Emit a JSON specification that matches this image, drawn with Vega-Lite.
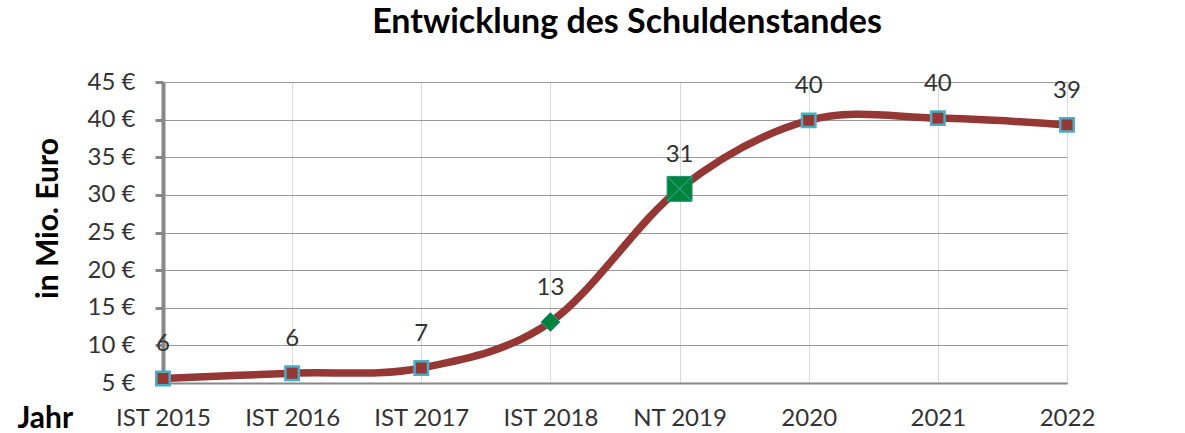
{
  "$schema": "https://vega.github.io/schema/vega-lite/v6.json",
  "autosize": "none",
  "width": 1022,
  "height": 301,
  "padding": {"left": 163, "top": 82, "right": 0, "bottom": 50},
  "background": "white",
  "title": {
    "text": "Entwicklung des Schuldenstandes",
    "font": "Lato",
    "fontSize": 34,
    "fontWeight": "bold",
    "color": "#000000",
    "anchor": "middle",
    "dx": -47,
    "offset": 30
  },
  "config": {
    "view": {"stroke": null},
    "font": "Lato"
  },
  "data": {
    "values": [
      {"Jahr": "IST 2015", "Wert": 5.6},
      {"Jahr": "IST 2016", "Wert": 6.3},
      {"Jahr": "IST 2017", "Wert": 7.0},
      {"Jahr": "IST 2018", "Wert": 13.1},
      {"Jahr": "NT 2019", "Wert": 30.8},
      {"Jahr": "2020", "Wert": 39.9},
      {"Jahr": "2021", "Wert": 40.2},
      {"Jahr": "2022", "Wert": 39.3}
    ]
  },
  "encoding": {
    "x": {
      "field": "Jahr",
      "type": "ordinal",
      "sort": null,
      "scale": {"type": "point", "range": [0, 904], "padding": 0},
      "axis": {
        "title": "Jahr",
        "titleFont": "Lato",
        "titleFontSize": 30,
        "titleFontWeight": "bold",
        "titleColor": "#000000",
        "titleAlign": "left",
        "titleBaseline": "alphabetic",
        "titleAnchor": null,
        "titleX": -146,
        "titleY": 44,
        "labelAngle": 0,
        "labelFont": "Lato",
        "labelFontSize": 24,
        "labelColor": "#333333",
        "labelPadding": 23,
        "tickSize": 0,
        "grid": true,
        "gridColor": "#d9d9d9",
        "gridWidth": 1,
        "domainColor": "#888888",
        "domainWidth": 2
      }
    },
    "y": {
      "field": "Wert",
      "type": "quantitative",
      "scale": {"domain": [5, 45], "nice": false, "zero": false},
      "axis": {
        "title": "in Mio. Euro",
        "titleFont": "Lato",
        "titleFontSize": 30,
        "titleFontWeight": "bold",
        "titleColor": "#000000",
        "titleAngle": -90,
        "titleAlign": "center",
        "titleBaseline": "middle",
        "titleAnchor": null,
        "titleX": -115,
        "titleY": 136,
        "values": [5, 10, 15, 20, 25, 30, 35, 40, 45],
        "labelExpr": "datum.value + ' €'",
        "labelFont": "Lato",
        "labelFontSize": 24,
        "labelColor": "#333333",
        "labelPadding": 20,
        "tickSize": 8,
        "tickWidth": 3,
        "tickColor": "#888888",
        "domainColor": "#888888",
        "domainWidth": 4,
        "grid": true,
        "gridColor": "#999999",
        "gridWidth": 1
      }
    }
  },
  "layer": [
    {
      "mark": {"type": "line", "interpolate": "cardinal", "color": "#953735", "strokeWidth": 7.5}
    },
    {
      "transform": [{"filter": "datum.Jahr != 'IST 2018' && datum.Jahr != 'NT 2019'"}],
      "mark": {"type": "point", "shape": "square", "filled": true, "size": 180, "fill": "#953735", "stroke": "#4BACC6", "strokeWidth": 2.5, "opacity": 1}
    },
    {
      "transform": [{"filter": "datum.Jahr == 'IST 2018'"}],
      "mark": {"type": "point", "shape": "diamond", "filled": true, "size": 360, "fill": "#00843D", "stroke": "#2a9d8f", "strokeWidth": 1, "opacity": 1}
    },
    {
      "transform": [{"filter": "datum.Jahr == 'NT 2019'"}],
      "mark": {"type": "point", "shape": "square", "filled": true, "size": 620, "fill": "#00843D", "stroke": "#1f8f6a", "strokeWidth": 1, "opacity": 1}
    },
    {
      "transform": [{"filter": "datum.Jahr == 'NT 2019'"}],
      "mark": {"type": "point", "shape": "M-1,-1L1,1M1,-1L-1,1", "filled": false, "size": 620, "stroke": "#3fb0a0", "strokeWidth": 1, "opacity": 1}
    },
    {
      "mark": {"type": "text", "dy": -34, "font": "Lato", "fontSize": 24, "color": "#333333"},
      "encoding": {"text": {"field": "Wert", "type": "quantitative", "format": ".0f"}}
    }
  ]
}
